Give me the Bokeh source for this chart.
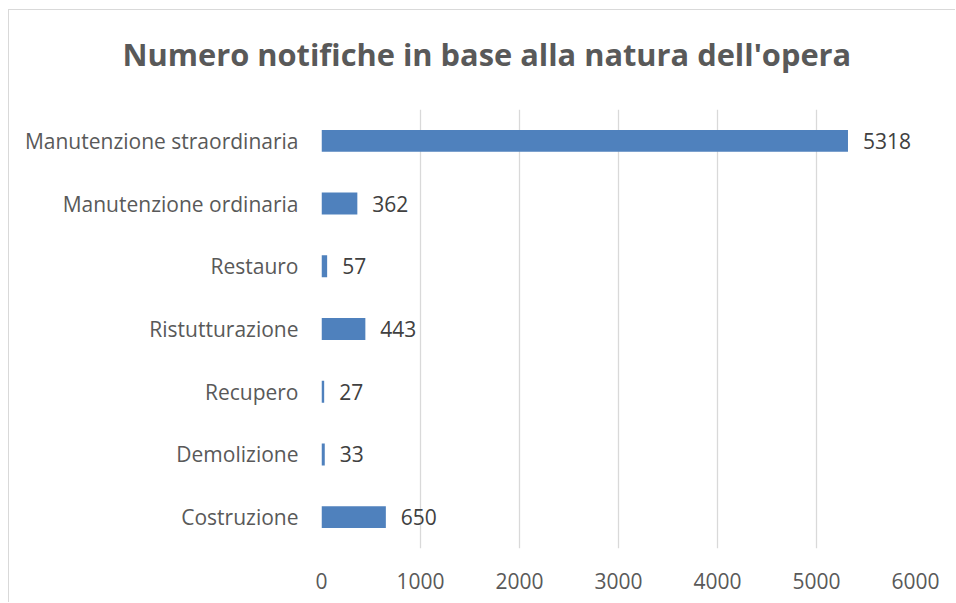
from bokeh.plotting import figure
from bokeh.models import FactorRange, Range1d, ColumnDataSource, FixedTicker, Title
from bokeh.core.properties import value
from bokeh.embed import file_html
from bokeh.resources import INLINE

categories = ["Manutenzione straordinaria", "Manutenzione ordinaria", "Restauro",
              "Ristutturazione", "Recupero", "Demolizione", "Costruzione"]
counts = [5318, 362, 57, 443, 27, 33, 650]
x_ticks = [0, 1000, 2000, 3000, 4000, 5000, 6000]
title_text = "Numero notifiche in base alla natura dell'opera"

FONT = "Open Sans"
src = ColumnDataSource(dict(cat=categories, val=counts, lab=[str(v) for v in counts]))

p = figure(width=947, height=593, output_backend="svg", toolbar_location=None,
           y_range=FactorRange(factors=list(reversed(categories)), range_padding=0),
           x_range=Range1d(0, 6000),
           min_border_left=312, min_border_right=41, min_border_top=98, min_border_bottom=55)

p.title = Title(text=title_text, align="left", offset=-199, text_font=FONT,
                text_font_size="30.8px", text_font_style="bold", text_color="#595959",
                standoff=44, vertical_align="top")
p.add_layout(Title(text=" ", text_font_size="1px", standoff=8), "above")

p.hbar(y="cat", right="val", left=0, height=0.35, source=src,
       fill_color="#4F81BD", line_color=None)
p.text(x="val", y="cat", text="lab", source=src, x_offset=15, text_align="left",
       text_baseline="middle", text_font=value(FONT), text_font_size="21px",
       text_color="#404040")

p.outline_line_color = None
p.ygrid.grid_line_color = None
p.xgrid.grid_line_color = "#d9d9d9"
p.xgrid.grid_line_width = 1.3
p.xaxis.ticker = FixedTicker(ticks=x_ticks)
for ax in (p.xaxis, p.yaxis):
    ax.axis_line_color = None
    ax.major_tick_line_color = None
    ax.minor_tick_line_color = None
    ax.major_label_text_font = FONT
    ax.major_label_text_font_size = "21px"
    ax.major_label_text_color = "#595959"
p.xaxis.major_label_standoff = 18
p.yaxis.major_label_standoff = 17
p.styles = {"margin-left": "8px", "margin-top": "9px",
            "border-left": "1px solid #d9d9d9", "border-top": "1px solid #d9d9d9"}

open("out.html", "w").write(file_html(p, INLINE))
